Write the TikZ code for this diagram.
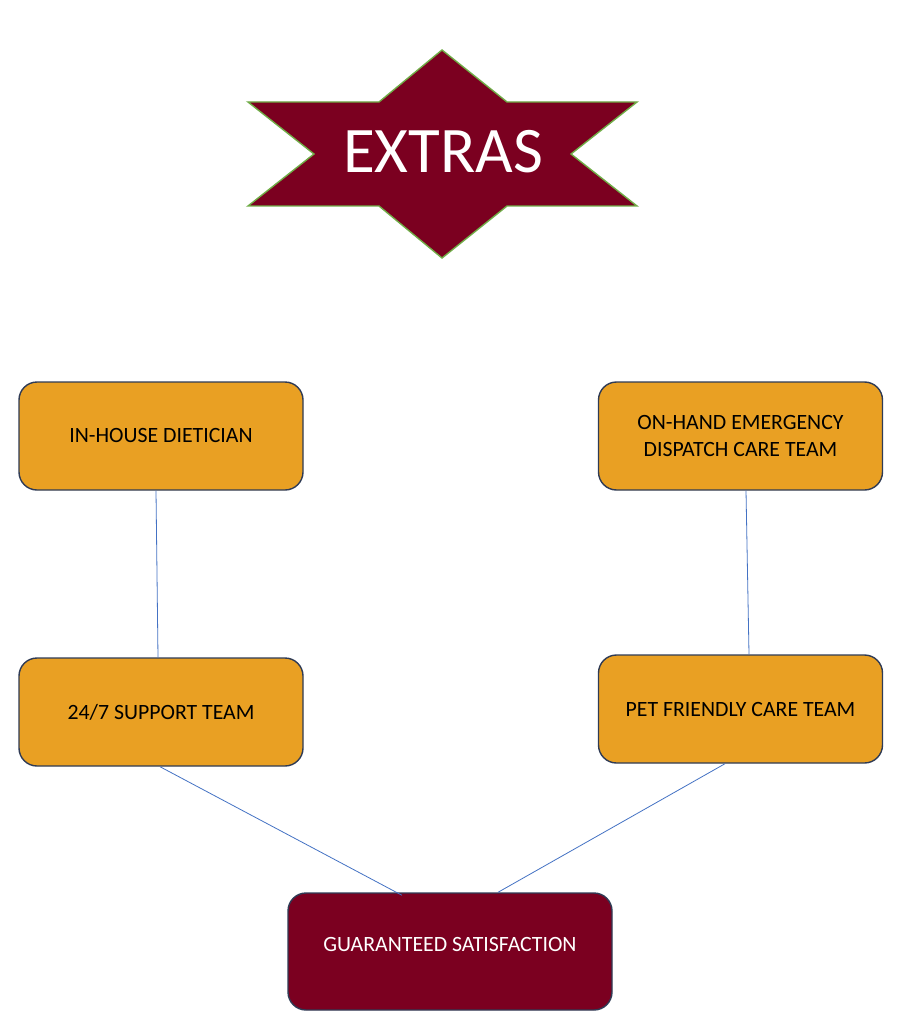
\documentclass[tikz,border=0pt]{standalone}
\usepackage{fontspec}
\setmainfont{Carlito}
\definecolor{wine}{HTML}{7B0020}
\definecolor{starline}{HTML}{70AD47}
\definecolor{boxfill}{HTML}{E9A023}
\definecolor{boxline}{HTML}{2F3B55}
\definecolor{conn}{HTML}{4472C4}
\begin{document}
\begin{tikzpicture}[x=1pt,y=-1pt,
  obox/.style={draw=boxline,line width=1.4pt,fill=boxfill,rounded corners=18pt,
    minimum width=284pt,minimum height=108pt,inner sep=0pt,align=center,
    font=\fontsize{21.8}{27}\selectfont,text=black},
  rbox/.style={obox,fill=wine,text=white,minimum width=324pt,minimum height=117pt},
  link/.style={draw=conn,line width=0.8pt}]
\useasboundingbox (0,0) rectangle (905,1024);
\fill[white] (0,0) rectangle (905,1024);
% star
\draw[fill=wine,draw=starline,line width=1.4pt,line join=miter]
  (442,50) -- (507,102) -- (637,102) -- (571,154) -- (637,206) -- (507,206)
  -- (442,258) -- (379,206) -- (248,206) -- (314,154) -- (248,102) -- (379,102) -- cycle;
\node[text=white,font=\fontsize{65}{65}\selectfont] (extras) at (443,152) {EXTRAS};
% boxes
\node[obox] (a) at (161,436) {\raisebox{-3pt}{IN-HOUSE DIETICIAN}};
\node[obox] (b) at (740.5,436) {\raisebox{-2pt}{ON-HAND EMERGENCY}\\\raisebox{-2pt}{DISPATCH CARE TEAM}};
\node[obox] (c) at (161,712) {\raisebox{-2pt}{24/7 SUPPORT TEAM}};
\node[obox] (d) at (740.5,709) {\raisebox{-2pt}{PET FRIENDLY CARE TEAM}};
\node[rbox] (g) at (450,951.5) {\raisebox{14pt}{GUARANTEED SATISFACTION}};
% connectors
\draw[link] ([xshift=-5pt]a.south) -- ([xshift=-3pt]c.north);
\draw[link] ([xshift=5.5pt]b.south) -- ([xshift=8.5pt]d.north);
\draw[link] ([xshift=-1pt]c.south) -- ([xshift=-48pt,yshift=-3pt]g.north);
\draw[link] ([xshift=-15.5pt]d.south) -- ([xshift=48pt]g.north);
\end{tikzpicture}
\end{document}
